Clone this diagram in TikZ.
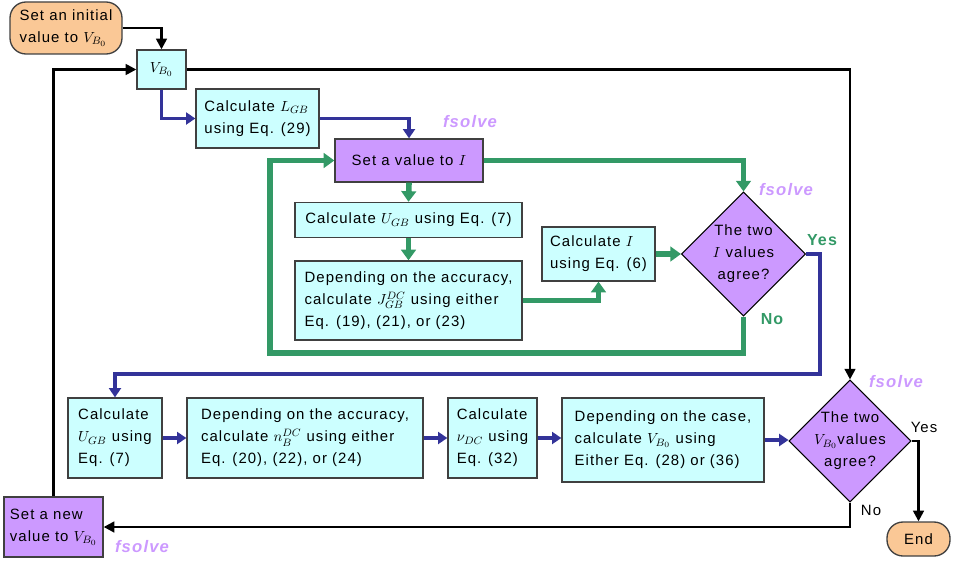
\documentclass[tikz,border=0pt]{standalone}
\usepackage{amsmath}
\usepackage{fontspec}
\setmainfont{Liberation Sans}[LetterSpace=7]
\usetikzlibrary{arrows.meta,shapes.geometric}
\definecolor{boxcyan}{RGB}{204,255,255}
\definecolor{boxpurple}{RGB}{204,153,255}
\definecolor{boxorange}{RGB}{250,200,150}
\definecolor{loopgreen}{RGB}{51,153,102}
\definecolor{loopblue}{RGB}{51,51,153}
\definecolor{solvercol}{RGB}{204,153,255}

\begin{document}
\begin{tikzpicture}[x=0.75pt,y=-0.75pt,
  font=\fontsize{11.2}{16.5}\selectfont,
  proc/.style={draw=black!75, line width=1pt, fill=boxcyan, align=left, inner sep=2pt},
  setbox/.style={proc, fill=boxpurple},
  term/.style={draw=black!75, line width=1pt, fill=boxorange, rounded corners=12pt, align=left, inner sep=2pt},
  decision/.style={diamond, draw=black, line width=0.8pt, fill=boxpurple, inner sep=0pt, minimum width=#1, minimum height=#1},
  sz/.style 2 args={minimum width=#1, minimum height=#2},
  blk/.style={draw=black, line width=1.8pt, -{Triangle[length=8pt,width=8pt]}},
  blu/.style={draw=loopblue, line width=2.6pt, -{Triangle[length=7pt,width=9pt]}},
  grn/.style={draw=loopgreen, line width=4.2pt, -{Triangle[length=8pt,width=11pt]}},
  solver/.style={text=solvercol, font=\fontsize{12.5}{14}\selectfont\bfseries\itshape},
]
\useasboundingbox (0,0) rectangle (955,560);

% upper part
\node[term, sz={84pt}{39pt}] (start) at (66,28) {Set an initial\\value to $V_{B_0}$};
\node[proc, sz={36.75pt}{29.25pt}] (vb) at (161.5,69.5) {$V_{B_0}$};
\node[proc, sz={92.25pt}{44.25pt}] (lgb) at (257.5,118.5) {Calculate $L_{GB}$\\using Eq. (29)};
\node[setbox, sz={111pt}{32.25pt}] (seti) at (409,160.5) {Set a value to $I$};
\node[proc, sz={170.25pt}{26.25pt}] (ugb) at (408.5,220) {Calculate $U_{GB}$ using Eq. (7)};
\node[proc, sz={170.25pt}{59.25pt}] (jgb) at (408.5,300.5) {Depending on the accuracy,\\calculate $J_{GB}^{DC}$ using either\\Eq. (19), (21), or (23)};
\node[proc, sz={84.75pt}{40.5pt}] (calci) at (598.5,254) {Calculate $I$\\using Eq. (6)};
\node[decision=93pt] (d1) at (743.5,254) {};
\node[align=center] (d1txt) at (d1) {The two\\$I$ values\\agree?};

% lower part
\node[proc, sz={70.5pt}{60pt}] (ugbb) at (115,438) {Calculate\\$U_{GB}$ using\\Eq. (7)};
\node[proc, sz={177pt}{60pt}] (nb) at (305,438) {Depending on the accuracy,\\calculate $n_B^{DC}$ using either\\Eq. (20), (22), or (24)};
\node[proc, sz={66.75pt}{60pt}] (nu) at (492.5,438) {Calculate\\$\nu_{DC}$ using\\Eq. (32)};
\node[proc, sz={151.5pt}{63pt}] (vbc) at (663,440) {Depending on the case,\\calculate $V_{B_0}$ using\\Either Eq. (28) or (36)};
\node[decision=91.5pt] (d2) at (850,441) {};
\node[align=center] (d2txt) at (d2) {The two\\$V_{B_0}$values\\agree?};
\node[setbox, sz={74.25pt}{45pt}] (setnew) at (53.5,527) {Set a new\\value to $V_{B_0}$};
\node[term, sz={47.25pt}{25.5pt}, align=center] (end) at (918.5,539) {End};

\coordinate (nobend) at (270,353);
\coordinate (yesbend) at (820,374);

% connectors
\draw[blk] (start.east) -| (vb.north);
\draw[blk] (vb.east) -| (d2.north);
\draw[blu] (vb.south) |- (lgb.west);
\draw[blu] (lgb.east) -| (seti.north);
\draw[grn] (seti.east) -| (d1.north);
\draw[grn] (seti.south) -- (ugb.north);
\draw[grn] (ugb.south) -- (jgb.north);
\draw[grn] (jgb.east) -| (calci.south);
\draw[grn] (calci.east) -- (d1.west);
\draw[grn] (d1.south) |- (nobend) |- (seti.west);
\draw[blu] (d1.east) -| (yesbend) -| (ugbb.north);
\draw[blu] (ugbb.east) -- (nb.west);
\draw[blu] (nb.east) -- (nu.west);
\draw[blu] (nu.east) -- (nu.east -| vbc.west);
\draw[blu] (vbc.east) -- (vbc.east -| d2.west);
\draw[blk] (d2.east) -| (end.north);
\draw[blk] (d2.south) |- (setnew.east);
\draw[blk] (setnew.north) |- (vb.west);

% labels
\node[solver] (fs1) at (470,122) {fsolve};
\node[solver] (fs2) at (786,190) {fsolve};
\node[solver] (fs3) at (896,382) {fsolve};
\node[solver] (fs4) at (142,547) {fsolve};
\node[text=loopgreen, font=\fontsize{12}{14}\selectfont\bfseries] (yes1) at (822,240) {Yes};
\node[text=loopgreen, font=\fontsize{12}{14}\selectfont\bfseries] (no1) at (772,319) {No};
\node (yes2) at (924,427) {Yes};
\node (no2) at (871,510) {No};
\end{tikzpicture}
\end{document}
